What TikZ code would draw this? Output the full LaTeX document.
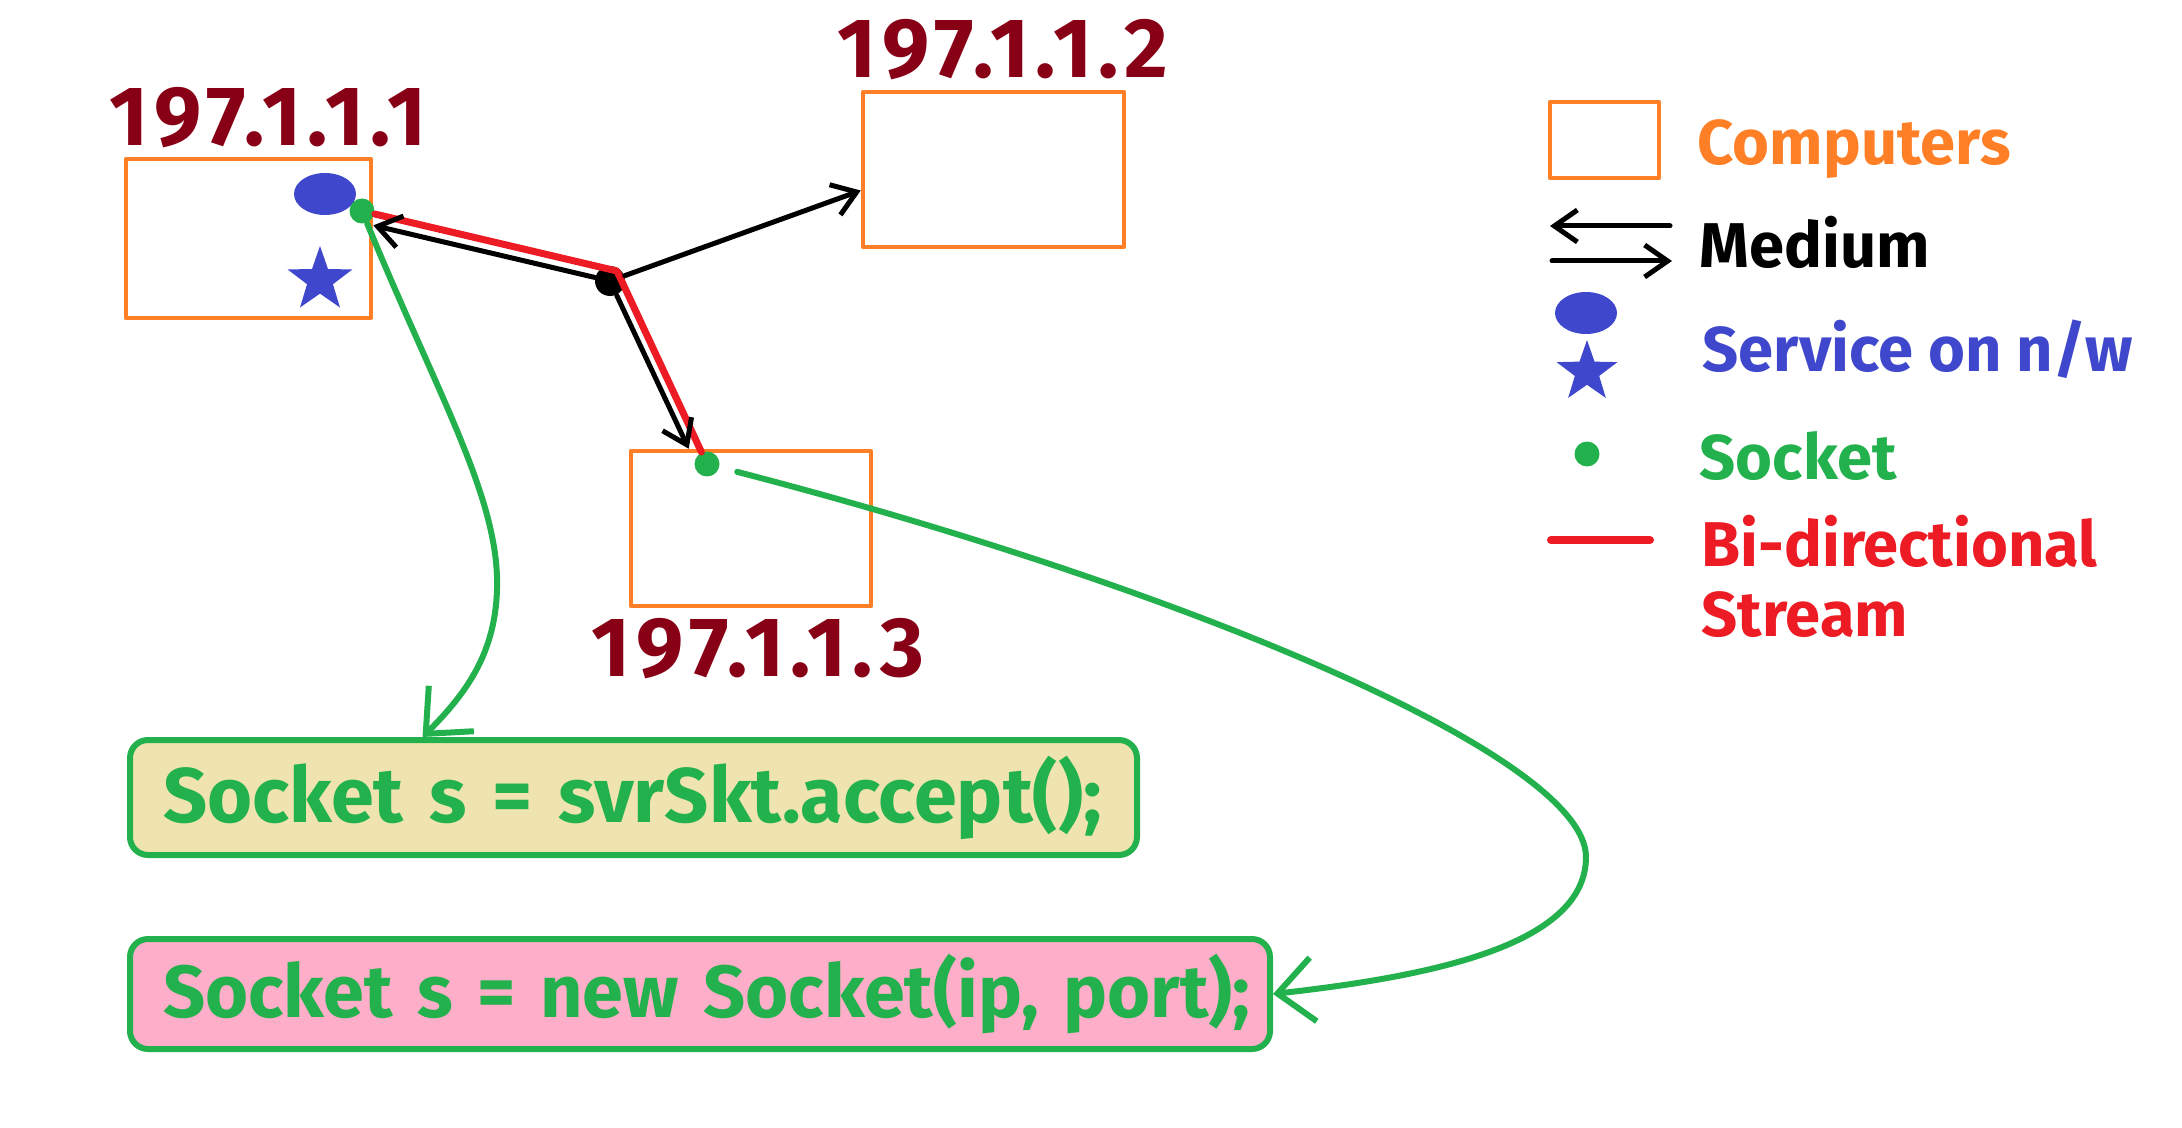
\documentclass[tikz,border=0pt]{standalone}
\usepackage{fontspec}
\setmainfont{Fira Sans}
\newfontfamily\ipfont[LetterSpace=7]{Fira Sans}
\usetikzlibrary{arrows.meta}
\usetikzlibrary{shapes.geometric}
\definecolor{pcorange}{RGB}{255,127,39}
\definecolor{ipred}{RGB}{136,0,21}
\definecolor{svcblue}{RGB}{63,72,204}
\definecolor{skgreen}{RGB}{34,177,76}
\definecolor{strred}{RGB}{237,28,36}
\definecolor{acctan}{RGB}{239,228,176}
\definecolor{newpink}{RGB}{255,174,201}

\begin{document}
\begin{tikzpicture}[line cap=round,line join=round,x=0.1mm,y=-0.1mm,
	>={Straight Barb[length=2.3mm,width=3.2mm]},
	comp/.style={draw=pcorange,line width=0.45mm,inner sep=0pt},
	ip/.style={text=ipred,anchor=base,inner sep=0pt,font=\ipfont\fontsize{24}{26}\selectfont\bfseries},
	sock/.style={circle,fill=skgreen,minimum size=2.5mm,inner sep=0pt},
	svc/.style={ellipse,fill=svcblue,minimum width=6.2mm,minimum height=4.2mm,inner sep=0pt},
	svcstar/.style={star,star points=5,star point ratio=2.5,fill=svcblue,minimum size=6.8mm,inner sep=0pt},
	medium/.style={->,line width=0.5mm},
	stream/.style={draw=strred,line width=0.7mm},
	link/.style={draw=skgreen,line width=0.6mm,->,>={Straight Barb[length=3.6mm,width=6.4mm]}},
	codebox/.style={draw=skgreen,line width=0.6mm,rounded corners=1.8mm,text=skgreen,align=left,
		inner xsep=3.3mm,inner ysep=0pt,font=\fontsize{22}{26}\selectfont\bfseries},
	lg/.style={anchor=base west,inner sep=0pt,font=\fontsize{18}{20}\selectfont\bfseries}]

	\useasboundingbox (0,0) rectangle (2182,1128);

	%koneet
	\node[comp,minimum width=24.5mm,minimum height=15.9mm] (pc1) at (248.5,238.5) {};
	\node[comp,minimum width=26.1mm,minimum height=15.5mm] (pc2) at (993.5,169.5) {};
	\node[comp,minimum width=24mm,minimum height=15.5mm] (pc3) at (751,528.5) {};

	\node[ip] (ip1) at (268,146) {197.1.1.1};
	\node[ip] (ip2) at (1003,78) {197.1.1.2};
	\node[ip] (ip3) at (758,676) {197.1.1.3};

	%palvelu
	\node[svc] (svc1) at (325,194) {};
	\node[svcstar] (star1) at (320,280) {};

	%soketit
	\node[sock] (sk1) at (362,211) {};
	\node[sock] (sk3) at (707,464) {};
	\node[circle,fill=black,minimum size=3mm,inner sep=0pt] (hub) at (610,281) {};
	\coordinate (turn) at (617,271);

	%yhteydet
	\draw[stream] (sk1) -- (turn) -- (sk3);
	\draw[medium] (hub) -- (pc1.6);
	\draw[medium] (hub) -- (pc2.189);
	\draw[medium] (hub) -- (pc3.128);

	%koodi
	\node[codebox,fill=acctan,text width=94.1mm,minimum height=11.5mm] (acc) at (633.5,797.5) {\mbox{Socket s = svrSkt.accept();}};
	\node[codebox,fill=newpink,text width=107.4mm,minimum height=11mm,font=\fontsize{21}{25}\selectfont\bfseries] (nsk) at (700,994) {\mbox{Socket s = new Socket(ip, port);}};

	\draw[link] (sk1) .. controls (440,400) and (500,500) .. (497,590)
		.. controls (495,650) and (470,690) .. (acc.164);
	\draw[link,shorten <=1.8mm] (sk3) .. controls (1188,589) and (1586,757) .. (1586,857)
		.. controls (1586,947) and (1424,977) .. (nsk.east);

	%selitteet
	\node[comp,minimum width=10.9mm,minimum height=7.6mm] (lgpc) at (1604.5,140) {};
	\node[lg,text=pcorange] (lgcomp) at (1697,165) {Computers};
	\draw[medium,<-] (1550,226) -- (1670,226);
	\draw[medium] (1552,261) -- (1672,261);
	\node[lg,text=black] (lgmed) at (1699,268) {Medium};
	\node[svc] (lgsvc) at (1586,313) {};
	\node[svcstar,minimum size=6.4mm] (lgstar) at (1587,372) {};
	\node[lg,text=svcblue] (lgserv) at (1702,372) {Service on n/w};
	\node[sock] (lgsk) at (1587,454) {};
	\node[lg,text=skgreen] (lgsock) at (1699,479) {Socket};
	\draw[stream,line width=0.8mm] (1551,540) -- (1650,540);
	\node[lg,text=strred] (lgbi) at (1701,567) {Bi-directional};
	\node[lg,text=strred] (lgstr) at (1701,636) {Stream};

\end{tikzpicture}
\end{document}
